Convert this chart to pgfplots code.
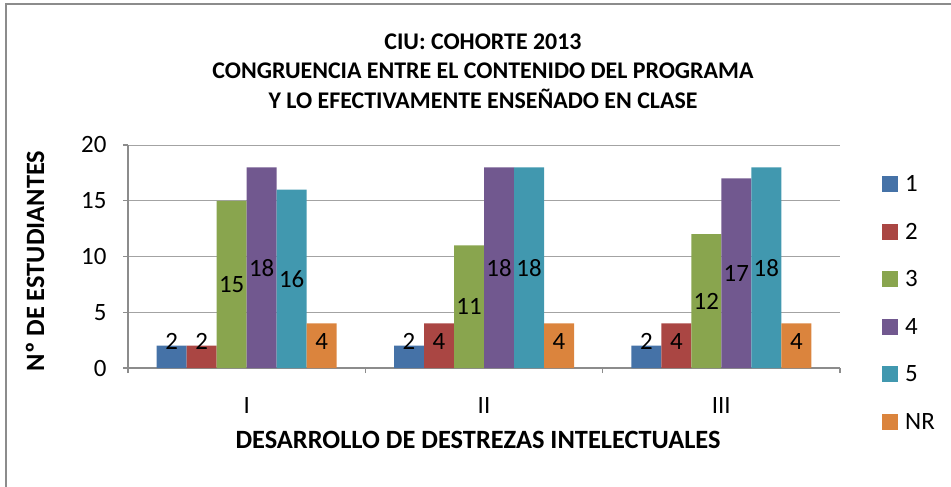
\documentclass[border=0pt]{standalone}
\usepackage{pgfplots}
\pgfplotsset{compat=1.18}
\usepackage{fontspec}
\setmainfont{Carlito}
\definecolor{c1}{HTML}{4572A7}
\definecolor{c2}{HTML}{AA4643}
\definecolor{c3}{HTML}{89A54E}
\definecolor{c4}{HTML}{71588F}
\definecolor{c5}{HTML}{4198AF}
\definecolor{c6}{HTML}{DB843D}
\definecolor{gridc}{HTML}{8C8C8C}
\begin{document}
\begin{tikzpicture}[x=1bp,y=1bp]
\path[use as bounding box] (0,0) rectangle (951,-487);
\draw[gridc, line width=1.5bp] (6,-487) -- (6,-4) -- (951,-4);
\node[font=\bfseries\fontsize{24}{29.5}\selectfont, align=center] at (483,-71) {CIU: COHORTE 2013\\CONGRUENCIA ENTRE EL CONTENIDO DEL PROGRAMA\\Y LO EFECTIVAMENTE ENSEÑADO EN CLASE};
\node[font=\bfseries\fontsize{26.5}{30}\selectfont, rotate=90] at (35,-261) {Nº DE ESTUDIANTES};
\node[font=\bfseries\fontsize{26.5}{30}\selectfont] at (478,-440) {DESARROLLO DE DESTREZAS INTELECTUALES};
\begin{axis}[
  at={(128bp,-368bp)}, anchor=south west,
  width=712bp, height=223bp, scale only axis,
  ymin=0, ymax=20, ytick={0,5,10,15,20},
  xmin=-0.5, xmax=2.5,
  xtick={-0.5,0.5,1.5,2.5}, xticklabels={},
  extra x ticks={0,1,2}, extra x tick labels={I,II,III},
  extra x tick style={major tick length=0pt, grid=none, xticklabel style={yshift=-26bp}},
  axis x line*=bottom, axis y line*=left,
  axis line style={gridc, line width=1.2bp},
  tick style={gridc, line width=1.2bp},
  tick align=outside, major tick length=5bp,
  ymajorgrids, grid style={gridc!80, line width=1bp},
  /pgf/number format/assume math mode=true,
  ticklabel style={font=\fontsize{25}{28}\selectfont},
  yticklabel style={xshift=-13bp},
  ybar=0pt, bar width=30bp,
  visualization depends on={rawy \as \rawy},
  nodes near coords,
  every node near coord/.append style={font=\fontsize{25}{28}\selectfont, anchor=center, inner sep=0pt,
     yshift={-(\rawy-max(\rawy/2,2.4))*11.15bp}},
  legend image code/.code={\fill[#1] (0bp,-8bp) rectangle (16bp,8bp); \path (23bp,0bp);},
  legend style={at={(axis description cs:1,0.2915)}, anchor=west, xshift=42bp, draw=none, fill=none,
     font=\fontsize{25}{28}\selectfont, row sep=30bp, inner sep=0pt,
     nodes={inner sep=0pt}},
  legend cell align=left,
]
\addplot[fill=c1, draw=none] coordinates {(0,2) (1,2) (2,2)};
\addplot[fill=c2, draw=none] coordinates {(0,2) (1,4) (2,4)};
\addplot[fill=c3, draw=none] coordinates {(0,15) (1,11) (2,12)};
\addplot[fill=c4, draw=none] coordinates {(0,18) (1,18) (2,17)};
\addplot[fill=c5, draw=none] coordinates {(0,16) (1,18) (2,18)};
\addplot[fill=c6, draw=none] coordinates {(0,4) (1,4) (2,4)};
\legend{1,2,3,4,5,NR}
\end{axis}
\end{tikzpicture}
\end{document}
